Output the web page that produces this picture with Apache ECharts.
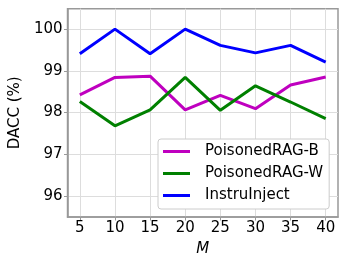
<!DOCTYPE html>
<html><head><meta charset="utf-8">
<script src="https://cdn.jsdelivr.net/npm/echarts@6/dist/echarts.min.js"></script>
<style>html,body{margin:0;padding:0;background:#fff}#c{width:347px;height:262px}</style>
</head><body><div id="c"></div>
<script>
const mValues = [5, 10, 15, 20, 25, 30, 35, 40];
const yTicks = [96, 97, 98, 99, 100];
const poisonedB = [98.42, 98.84, 98.87, 98.06, 98.41, 98.09, 98.66, 98.85];
const poisonedW = [98.26, 97.68, 98.06, 98.84, 98.05, 98.64, 98.25, 97.85];
const instruInject = [99.41, 100.0, 99.41, 100.0, 99.61, 99.43, 99.61, 99.21];
const seriesNames = ['PoisonedRAG-B', 'PoisonedRAG-W', 'InstruInject'];
const colors = ['#bf00bf', '#008000', '#0000ff'];
const font = 'DejaVu Sans';
const chart = echarts.init(document.getElementById('c'), null, {renderer: 'canvas'});
const mk = (name, vals, color) => ({
  name, type: 'line', data: mValues.map((m, i) => [m, vals[i]]),
  showSymbol: false, symbol: 'none', lineStyle: {color, width: 3}, itemStyle: {color},
  animation: false
});
chart.setOption({
  animation: false,
  grid: {left: 58.5, right: 9, top: 8.7, bottom: 44.5, containLabel: false,
         show: true, borderColor: '#999', borderWidth: 1.5, backgroundColor: 'transparent'},
  xAxis: {
    type: 'value', min: 3.25, max: 41.75,
    name: 'M', nameLocation: 'middle', nameGap: 25,
    nameTextStyle: {fontFamily: font, fontSize: 15, fontStyle: 'italic', color: '#000'},
    axisLine: {show: true, onZero: false, lineStyle: {color: '#999', width: 1.5}},
    axisTick: {show: true, length: 3.5, customValues: mValues, lineStyle: {color: '#999'}},
    axisLabel: {customValues: mValues, fontFamily: font, fontSize: 15, color: '#000', margin: 4},
    splitLine: {show: true, lineStyle: {color: '#ddd', width: 1}}
  },
  yAxis: {
    type: 'value', min: 95.49, max: 100.49,
    name: 'DACC (%)', nameLocation: 'middle', nameGap: 38,
    nameTextStyle: {fontFamily: font, fontSize: 15, color: '#000'},
    axisLine: {show: true, onZero: false, lineStyle: {color: '#999', width: 1.5}},
    axisTick: {show: true, length: 3.5, customValues: yTicks, lineStyle: {color: '#999'}},
    axisLabel: {customValues: yTicks, fontFamily: font, fontSize: 15, color: '#000', margin: 5},
    splitLine: {show: true, lineStyle: {color: '#ddd', width: 1}}
  },
  legend: {
    data: seriesNames, left: 158, top: 139, orient: 'vertical',
    icon: 'rect', itemWidth: 27, itemHeight: 3, itemGap: 7,
    padding: [5, 6, 6, 5], backgroundColor: '#fff', borderColor: '#ccc', borderWidth: 1, borderRadius: 3,
    textStyle: {fontFamily: font, fontSize: 15, color: '#000', padding: [0, 0, 0, 10]}
  },
  series: [mk(seriesNames[0], poisonedB, colors[0]), mk(seriesNames[1], poisonedW, colors[1]), mk(seriesNames[2], instruInject, colors[2])]
});
</script></body></html>
